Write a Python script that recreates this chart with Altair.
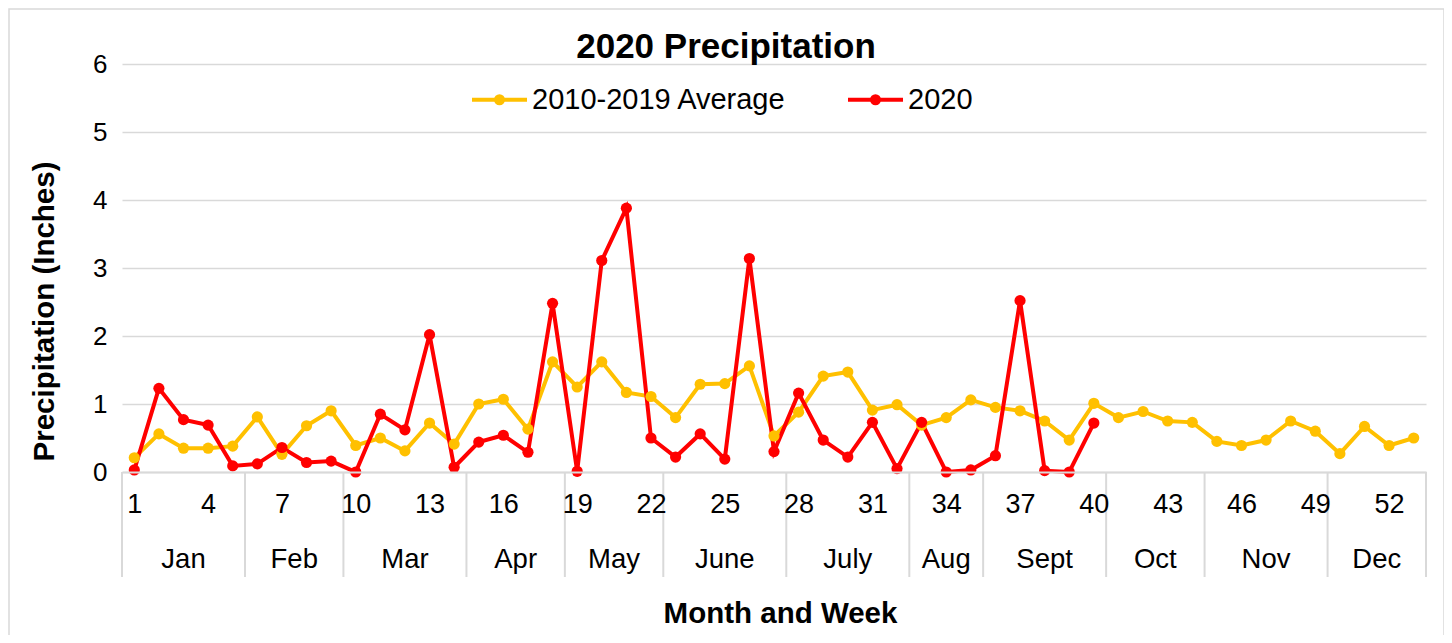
import altair as alt
import pandas as pd

# ---- data ----
weeks = list(range(1, 54))
series_names = ["2010-2019 Average", "2020"]
avg_2010_2019 = [0.21, 0.56, 0.35, 0.35, 0.38, 0.81, 0.26, 0.68, 0.90, 0.39,
                 0.50, 0.31, 0.72, 0.41, 1.00, 1.07, 0.63, 1.62, 1.25, 1.62,
                 1.17, 1.11, 0.80, 1.29, 1.30, 1.56, 0.53, 0.88, 1.41, 1.47,
                 0.91, 0.99, 0.69, 0.80, 1.06, 0.95, 0.90, 0.75, 0.47, 1.01,
                 0.80, 0.89, 0.75, 0.73, 0.45, 0.39, 0.47, 0.75, 0.60, 0.27,
                 0.67, 0.39, 0.50]
precip_2020 = [0.03, 1.23, 0.77, 0.69, 0.09, 0.12, 0.36, 0.14, 0.16, 0.00,
               0.85, 0.62, 2.02, 0.07, 0.44, 0.54, 0.29, 2.48, 0.01, 3.11,
               3.88, 0.50, 0.22, 0.56, 0.19, 3.14, 0.30, 1.16, 0.47, 0.22,
               0.73, 0.05, 0.73, 0.00, 0.03, 0.24, 2.52, 0.02, 0.00, 0.72]
months = ["Jan", "Feb", "Mar", "Apr", "May", "June", "July", "Aug", "Sept",
          "Oct", "Nov", "Dec"]
weeks_per_month = [5, 4, 5, 4, 4, 5, 5, 3, 5, 4, 5, 4]
week_tick_labels = list(range(1, 54, 3))
y_ticks = [0, 1, 2, 3, 4, 5, 6]

# ---- tables ----
rows = [{"week": w, "value": v, "series": series_names[0]}
        for w, v in zip(weeks, avg_2010_2019)]
rows += [{"week": w, "value": v, "series": series_names[1]}
         for w, v in zip(weeks, precip_2020)]
df = pd.DataFrame(rows)

bounds = [0.5]
for n in weeks_per_month:
    bounds.append(bounds[-1] + n)
month_df = pd.DataFrame({
    "month": months,
    "mid": [(bounds[i] + bounds[i + 1]) / 2 for i in range(len(months))],
})
sep_df = pd.DataFrame({"edge": bounds})

W, H = 1304, 408
FONT = "Liberation Sans"
GRID = "#D9D9D9"

xscale = alt.Scale(domain=[0.5, 53.5], nice=False, zero=False)

legend_path = ("M-1,0L1,0"
               "M-0.127,0A0.127,0.127,0,1,0,0.127,0A0.127,0.127,0,1,0,-0.127,0"
               "M-0.055,0A0.055,0.055,0,1,0,0.055,0A0.055,0.055,0,1,0,-0.055,0")

border = alt.Chart(pd.DataFrame({"b": [0]})).mark_rect(
    fillOpacity=0, stroke=GRID, strokeWidth=1.5
).encode(x=alt.value(-113), x2=alt.value(1322), y=alt.value(-55), y2=alt.value(700))

lines = alt.Chart(df).mark_line(
    strokeWidth=4,
    point=alt.OverlayMarkDef(filled=True, size=125, opacity=1),
).encode(
    x=alt.X("week:Q", scale=xscale,
            axis=alt.Axis(values=week_tick_labels, title="Month and Week",
                          grid=False, ticks=False, tickSize=0, zindex=1,
                          domainColor=GRID, domainWidth=2,
                          labelFontSize=27, labelColor="black", labelFont=FONT,
                          labelPadding=19, labelOverlap=False, labelFlush=False,
                          titleFontSize=29.5, titleFont=FONT, titleFontWeight="bold",
                          titleColor="black", titlePadding=82, titleX=658)),
    y=alt.Y("value:Q", scale=alt.Scale(domain=[0, 6], nice=False),
            axis=alt.Axis(values=y_ticks, title="Precipitation (Inches)",
                          grid=True, gridColor=GRID, gridWidth=1.5,
                          domain=False, ticks=False, tickSize=0,
                          labelFontSize=26, labelColor="black", labelFont=FONT,
                          labelPadding=15,
                          titleFontSize=29.5, titleFont=FONT, titleFontWeight="bold",
                          titleColor="black", titlePadding=33, titleY=247)),
    color=alt.Color("series:N",
                    scale=alt.Scale(domain=series_names, range=["#FFC000", "#FF0000"]),
                    legend=alt.Legend(orient="none", legendX=348, legendY=6,
                                      direction="horizontal", title=None,
                                      labelFontSize=29, labelFont=FONT,
                                      labelColor="black", labelOffset=3,
                                      labelLimit=500,
                                      symbolType=legend_path, symbolSize=3025,
                                      symbolStrokeWidth=4, symbolOpacity=1,
                                      columnPadding=53)),
    order="week:Q",
)

seps = alt.Chart(sep_df).mark_rule(color=GRID, strokeWidth=2).encode(
    x=alt.X("edge:Q", scale=xscale),
    y=alt.value(H), y2=alt.value(H + 105),
)

month_text = alt.Chart(month_df).mark_text(
    fontSize=27.5, font=FONT, color="black", baseline="middle", align="center"
).encode(
    x=alt.X("mid:Q", scale=xscale),
    y=alt.value(H + 88),
    text="month:N",
)

chart = alt.layer(border, seps, lines, month_text).properties(
    width=W, height=H,
    title=alt.Title("2020 Precipitation", fontSize=35, font=FONT,
                    fontWeight="bold", color="black", anchor="middle",
                    frame="group", dx=-48, dy=57, offset=0),
    autosize=alt.AutoSizeParams(type="none"),
    padding={"left": 114, "top": 56, "right": 18, "bottom": 163},
).configure_view(stroke="transparent")

chart.save("out.html", embed_options={"renderer": "svg", "actions": False})
